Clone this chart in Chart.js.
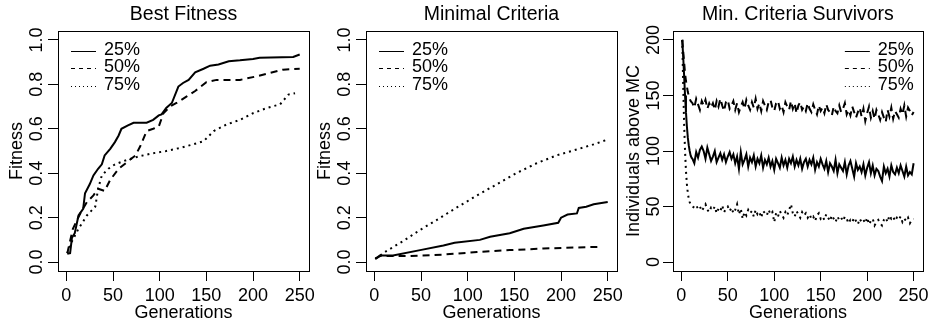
<!DOCTYPE html>
<html>
<head>
<meta charset="utf-8">
<script src="https://cdn.jsdelivr.net/npm/chart.js@4/dist/chart.umd.min.js"></script>
<style>
  body { margin: 0; background: #fff; width: 933px; height: 324px; position: relative; overflow: hidden; }
  canvas { position: absolute; top: 0; }
</style>
</head>
<body>
<canvas id="bestChart" width="320" height="324" style="left:0px"></canvas>
<canvas id="mcChart" width="320" height="324" style="left:308px"></canvas>
<canvas id="survChart" width="318" height="324" style="left:615px"></canvas>
<script>
// tick values
const genTicks = [0, 50, 100, 150, 200, 250];
const fitTicks = [0, 0.2, 0.4, 0.6, 0.8, 1.0];
const survTicks = [0, 50, 100, 150, 200];
const seriesLabels = ['25%', '50%', '75%'];

// Best Fitness
const bestGens25 = [1, 4, 6, 9, 13, 18, 20, 25, 29, 34, 38, 41, 47, 52, 56, 59, 66, 72, 86, 93, 99, 102, 107, 113, 120, 125, 131, 138, 147, 154, 163, 174, 186, 200, 207, 243, 250];
const best25 = [0.037, 0.04, 0.11, 0.13, 0.21, 0.24, 0.31, 0.35, 0.39, 0.42, 0.44, 0.48, 0.51, 0.54, 0.57, 0.60, 0.615, 0.627, 0.627, 0.64, 0.66, 0.665, 0.694, 0.716, 0.79, 0.806, 0.82, 0.854, 0.87, 0.884, 0.889, 0.904, 0.908, 0.914, 0.92, 0.923, 0.934];
const bestGens50 = [1, 7, 15, 22, 29, 34, 41, 47, 56, 65, 74, 79, 86, 93, 99, 104, 111, 118, 129, 138, 150, 161, 186, 204, 218, 232, 250];
const best50 = [0.04, 0.15, 0.22, 0.27, 0.30, 0.33, 0.32, 0.37, 0.42, 0.45, 0.48, 0.52, 0.59, 0.60, 0.61, 0.67, 0.70, 0.716, 0.746, 0.77, 0.81, 0.82, 0.82, 0.836, 0.851, 0.866, 0.87];
const bestGens75 = [1, 6, 13, 22, 31, 34, 38, 45, 52, 65, 79, 93, 107, 122, 136, 147, 158, 172, 186, 200, 215, 229, 238, 245];
const best75 = [0.04, 0.094, 0.15, 0.21, 0.25, 0.33, 0.39, 0.42, 0.44, 0.46, 0.477, 0.49, 0.50, 0.514, 0.53, 0.544, 0.59, 0.62, 0.64, 0.67, 0.694, 0.71, 0.754, 0.76];

// Minimal Criteria
const mcGens25 = [1, 6, 20, 49, 74, 86, 113, 124, 145, 160, 181, 197, 200, 207, 217, 219, 227, 235, 250];
const mc25 = [0.015, 0.03, 0.03, 0.054, 0.075, 0.087, 0.10, 0.114, 0.13, 0.15, 0.165, 0.177, 0.20, 0.214, 0.219, 0.244, 0.249, 0.26, 0.27];
const mcGens50 = [1, 6, 38, 74, 110, 145, 181, 217, 244];
const mc50 = [0.015, 0.027, 0.027, 0.034, 0.045, 0.054, 0.061, 0.066, 0.069];
const mcGens75 = [1, 13, 31, 49, 67, 88, 110, 131, 152, 174, 195, 217, 235, 249];
const mc75 = [0.015, 0.05, 0.095, 0.145, 0.19, 0.245, 0.30, 0.35, 0.40, 0.445, 0.48, 0.507, 0.53, 0.55];

// Min. Criteria Survivors: generations 1..12, then every second one
const survGens = [];
for (let g = 1; g <= 250; g++) if (g <= 12 || g % 2 === 0) survGens.push(g);
const surv25 = [200, 185, 168, 150, 135, 122, 112, 105, 100, 96, 94, 93,
  89, 99, 94, 101, 104, 100, 93, 103, 97, 91,
  95, 100, 90, 94, 98, 92, 97, 90, 95, 99,
  93, 97, 89, 95, 84, 99, 88, 92, 97, 86,
  94, 90, 96, 86, 93, 89, 96, 85, 92, 88,
  94, 86, 91, 83, 93, 89, 85, 94, 87, 92,
  85, 93, 89, 95, 86, 92, 87, 93, 84, 90,
  93, 86, 92, 88, 94, 83, 90, 86, 93, 88,
  84, 91, 81, 89, 86, 82, 92, 80, 88, 85,
  82, 90, 79, 87, 91, 84, 77, 89, 83, 86,
  81, 88, 78, 85, 90, 80, 87, 78, 84, 82,
  77, 73, 86, 80, 84, 77, 87, 81, 79, 85,
  80, 87, 82, 77, 86, 78, 81, 79, 89];
const surv50 = [200, 190, 180, 170, 163, 158, 153, 150, 147, 145, 144, 143,
  139, 147, 142, 137, 145, 141, 146, 138, 143, 139,
  143, 137, 145, 140, 147, 141, 136, 144, 146, 138,
  141, 145, 137, 143, 135, 140, 144, 138, 146, 141,
  137, 144, 139, 147, 138, 143, 136, 145, 141, 137,
  144, 146, 139, 136, 143, 145, 138, 141, 135, 144,
  140, 137, 145, 138, 143, 134, 141, 144, 137, 140,
  136, 143, 138, 135, 142, 137, 133, 141, 136, 139,
  134, 142, 137, 135, 132, 140, 136, 134, 141, 135,
  138, 143, 133, 137, 132, 140, 135, 130, 135, 139,
  131, 138, 127, 134, 140, 130, 136, 129, 137, 133,
  128, 135, 130, 126, 137, 131, 139, 129, 136, 133,
  130, 138, 133, 141, 131, 139, 136, 132, 135];
const surv75 = [200, 160, 125, 100, 82, 70, 62, 57, 54, 52, 51, 50,
  49, 51, 48, 50, 46, 49, 52, 47, 45, 49,
  47, 50, 44, 48, 46, 51, 45, 48, 50, 46,
  49, 44, 47, 52, 43, 48, 39, 45, 42, 47,
  44, 46, 41, 47, 43, 45, 40, 46, 44, 42,
  47, 43, 45, 36, 44, 41, 46, 43, 40, 45,
  42, 47, 52, 44, 41, 46, 43, 40, 45, 42,
  44, 40, 43, 39, 41, 37, 42, 44, 39, 41,
  38, 43, 40, 37, 42, 39, 36, 41, 38, 40,
  37, 41, 39, 35, 38, 36, 40, 37, 34, 39,
  36, 38, 35, 40, 34, 37, 39, 33, 36, 38,
  35, 33, 38, 40, 36, 42, 39, 41, 37, 40,
  38, 41, 36, 39, 37, 40, 35, 38, 39];

const FONT = '"Liberation Sans", Arial, Helvetica, sans-serif';
Chart.defaults.font.family = FONT;
Chart.defaults.color = '#000';

const lineDash = { '25%': [], '50%': [7, 5], '75%': [2, 4] };
const legendDash = { '25%': [], '50%': [4, 4], '75%': [1, 3] };

function createDataset(label, gens, values) {
    return {
        label: label,
        data: gens.map((g, i) => ({ x: g, y: values[i] })),
        borderColor: '#000',
        borderWidth: 2,
        borderDash: lineDash[label],
        pointRadius: 0,
        tension: 0,
        fill: false
    };
}

// R style box, rotated y tick labels and in-plot legend
const rPlot = {
    id: 'rPlot',
    afterDraw(chart, args, opts) {
        const { ctx, chartArea: a } = chart;
        const yScale = chart.scales.y;
        ctx.save();
        ctx.strokeStyle = '#000';
        ctx.lineWidth = 1;
        const l = Math.round(a.left), t = Math.round(a.top), r = Math.round(a.right), b = Math.round(a.bottom);
        ctx.strokeRect(l + 0.5, t + 0.5, r - l, b - t);

        ctx.fillStyle = '#000';
        ctx.font = '18px ' + FONT;
        ctx.textAlign = 'center';
        ctx.textBaseline = 'middle';
        opts.ticks.forEach((v, i) => {
            const py = yScale.getPixelForValue(v);
            ctx.save();
            ctx.translate(a.left - opts.labelGap, py);
            ctx.rotate(-Math.PI / 2);
            ctx.fillText(opts.tickLabels[i], 0, 0);
            ctx.restore();
        });

        chart.data.datasets.forEach((ds, i) => {
            const yy = a.top + 18.7 + i * 17.5;
            let x0, x1, tx;
            if (opts.legendSide === 'right') {
                x0 = a.right - 78; x1 = a.right - 53; tx = a.right - 9; ctx.textAlign = 'right';
            } else {
                x0 = a.left + 13; x1 = a.left + 38; tx = a.left + 46; ctx.textAlign = 'left';
            }
            ctx.setLineDash(legendDash[ds.label]);
            ctx.beginPath();
            ctx.moveTo(x0, Math.round(yy + 1) + 0.5);
            ctx.lineTo(x1, Math.round(yy + 1) + 0.5);
            ctx.stroke();
            ctx.setLineDash([]);
            ctx.fillText(ds.label, tx, yy);
        });
        ctx.restore();
    }
};

function makePanel(id, title, yTitle, yMin, yMax, yTicks, yTickLabels, datasets, extra) {
    return new Chart(document.getElementById(id), {
        type: 'line',
        data: { datasets: datasets },
        plugins: [rPlot],
        options: {
            responsive: false,
            animation: false,
            layout: { padding: { left: 0, right: extra.padRight, top: 0, bottom: 0 } },
            plugins: {
                legend: { display: false },
                tooltip: { enabled: false },
                title: {
                    display: true,
                    text: title,
                    fullSize: false,
                    font: { size: 19.5, weight: 'normal' },
                    padding: { top: 3, bottom: 4.6 }
                },
                rPlot: {
                    ticks: yTicks,
                    tickLabels: yTickLabels,
                    labelGap: extra.labelGap,
                    legendSide: extra.legendSide
                }
            },
            scales: {
                x: {
                    type: 'linear',
                    min: -8.96,
                    max: 259.96,
                    afterBuildTicks: s => { s.ticks = genTicks.map(v => ({ value: v })); },
                    afterFit: s => { s.height = 53; },
                    grid: { drawOnChartArea: false, drawTicks: true, tickLength: 10, color: '#000' },
                    border: { display: false },
                    ticks: { font: { size: 18 }, padding: 4, maxRotation: 0, autoSkip: false },
                    title: { display: true, text: 'Generations', font: { size: 18 }, padding: { top: 0, bottom: 0 } }
                },
                y: {
                    type: 'linear',
                    min: yMin,
                    max: yMax,
                    afterBuildTicks: s => { s.ticks = yTicks.map(v => ({ value: v })); },
                    afterFit: s => { s.width = 58; },
                    grid: { drawOnChartArea: false, drawTicks: true, tickLength: 10, color: '#000' },
                    border: { display: false },
                    ticks: { display: false },
                    title: { display: true, text: yTitle, font: { size: 18 }, padding: { top: extra.yTitlePad, bottom: 0 } }
                }
            }
        }
    });
}

const fitLabels = fitTicks.map(v => v.toFixed(1));

makePanel('bestChart', 'Best Fitness', 'Fitness', -0.04, 1.04, fitTicks, fitLabels, [
    createDataset(seriesLabels[0], bestGens25, best25),
    createDataset(seriesLabels[1], bestGens50, best50),
    createDataset(seriesLabels[2], bestGens75, best75)
], { padRight: 11, labelGap: 21, legendSide: 'left', yTitlePad: 6 });

makePanel('mcChart', 'Minimal Criteria', 'Fitness', -0.04, 1.04, fitTicks, fitLabels, [
    createDataset(seriesLabels[0], mcGens25, mc25),
    createDataset(seriesLabels[1], mcGens50, mc50),
    createDataset(seriesLabels[2], mcGens75, mc75)
], { padRight: 11, labelGap: 21, legendSide: 'left', yTitlePad: 6 });

makePanel('survChart', 'Min. Criteria Survivors', 'Individuals above MC', -8, 208, survTicks, survTicks.map(String), [
    createDataset(seriesLabels[0], survGens, surv25),
    createDataset(seriesLabels[1], survGens, surv50),
    createDataset(seriesLabels[2], survGens, surv75)
], { padRight: 9, labelGap: 19, legendSide: 'right', yTitlePad: 8 });
</script>
</body>
</html>
